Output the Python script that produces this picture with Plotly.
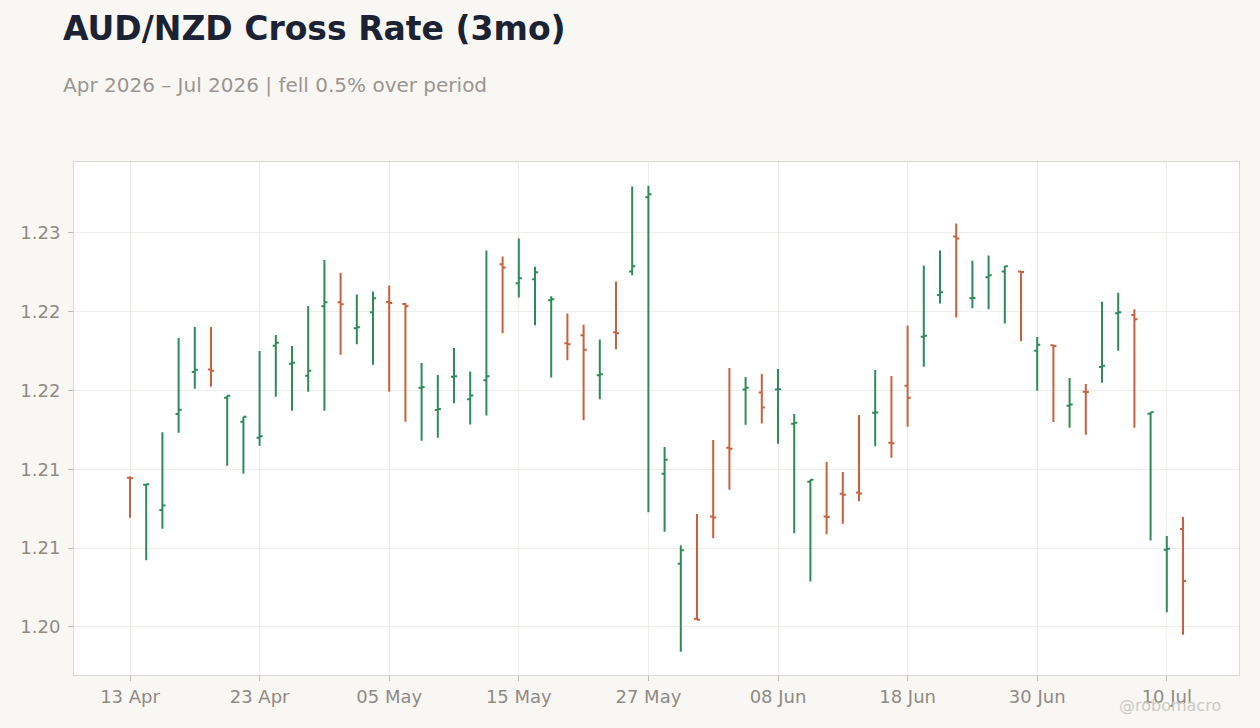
import pandas as pd
import plotly.graph_objects as go

dates = pd.bdate_range("2026-04-13", periods=66)
date_labels = [d.strftime("%Y-%m-%d") for d in dates]

opens = [1.20947, 1.20902, 1.20742, 1.21351, 1.21617, 1.21633, 1.21454, 1.21302, 1.21201, 1.21784,
         1.21670, 1.21594, 1.22034, 1.22060, 1.21895, 1.21996, 1.22062, 1.22049, 1.21518, 1.21377,
         1.21588, 1.21444, 1.21565, 1.22301, 1.22180, 1.22206, 1.22073, 1.21800, 1.21850, 1.21597,
         1.21869, 1.22256, 1.22726, 1.20972, 1.20401, 1.20052, 1.20701, 1.21137, 1.21506, 1.21487,
         1.21506, 1.21289, 1.20921, 1.20701, 1.20845, 1.20853, 1.21359, 1.21169, 1.21530, 1.21841,
         1.22106, 1.22478, 1.22085, 1.22218, 1.22256, 1.22256, 1.21753, 1.21787, 1.21404, 1.21492,
         1.21649, 1.21990, 1.21979, 1.21353, 1.20490, 1.20622]
highs = [1.20956, 1.20907, 1.21235, 1.21833, 1.21903, 1.21903, 1.21467, 1.21334, 1.21751, 1.21852,
         1.21782, 1.22036, 1.22328, 1.22248, 1.22109, 1.22128, 1.22166, 1.22056, 1.21675, 1.21599,
         1.21770, 1.21620, 1.22388, 1.22350, 1.22464, 1.22286, 1.22098, 1.21988, 1.21918, 1.21823,
         1.22191, 1.22794, 1.22800, 1.21142, 1.20518, 1.20716, 1.21186, 1.21643, 1.21586, 1.21605,
         1.21637, 1.21351, 1.20934, 1.21046, 1.20983, 1.21345, 1.21630, 1.21592, 1.21912, 1.22294,
         1.22388, 1.22559, 1.22324, 1.22356, 1.22290, 1.22259, 1.21839, 1.21791, 1.21579, 1.21541,
         1.22064, 1.22121, 1.22015, 1.21362, 1.20577, 1.20697]
lows = [1.20693, 1.20423, 1.20623, 1.21232, 1.21511, 1.21524, 1.21023, 1.20972, 1.21150, 1.21461,
        1.21372, 1.21493, 1.21372, 1.21727, 1.21794, 1.21664, 1.21493, 1.21302, 1.21181, 1.21201,
        1.21420, 1.21285, 1.21341, 1.21863, 1.22091, 1.21914, 1.21583, 1.21692, 1.21311, 1.21444,
        1.21762, 1.22231, 1.20727, 1.20604, 1.19843, 1.20044, 1.20562, 1.20871, 1.21283, 1.21290,
        1.21162, 1.20594, 1.20289, 1.20588, 1.20655, 1.20797, 1.21146, 1.21074, 1.21270, 1.21651,
        1.22052, 1.21964, 1.22022, 1.22015, 1.21926, 1.21812, 1.21499, 1.21300, 1.21264, 1.21220,
        1.21550, 1.21753, 1.21264, 1.20548, 1.20093, 1.19950]
closes = [1.20943, 1.20905, 1.20770, 1.21378, 1.21632, 1.21626, 1.21467, 1.21334, 1.21210, 1.21803,
          1.21676, 1.21626, 1.22060, 1.22047, 1.21902, 1.22085, 1.22056, 1.22034, 1.21520, 1.21383,
          1.21590, 1.21469, 1.21590, 1.22280, 1.22212, 1.22250, 1.22079, 1.21794, 1.21759, 1.21603,
          1.21863, 1.22288, 1.22745, 1.21061, 1.20486, 1.20046, 1.20695, 1.21131, 1.21518, 1.21392,
          1.21508, 1.21296, 1.20934, 1.20698, 1.20839, 1.20847, 1.21361, 1.21166, 1.21454, 1.21848,
          1.22123, 1.22464, 1.22087, 1.22231, 1.22288, 1.22252, 1.21791, 1.21783, 1.21412, 1.21490,
          1.21657, 1.21996, 1.21952, 1.21362, 1.20496, 1.20292]

x_tickvals = date_labels[::8]
x_ticktext = [d.strftime("%d %b") for d in dates[::8]]
y_tickvals = [1.200, 1.205, 1.210, 1.215, 1.220, 1.225]
y_ticktext = ["1.20", "1.21", "1.21", "1.22", "1.22", "1.23"]

GREEN = "#2e8b57"
RED = "#c9603f"
TICKCOL = "#8f8a84"

fig = go.Figure(go.Ohlc(
    x=date_labels, open=opens, high=highs, low=lows, close=closes,
    increasing=dict(line=dict(color=GREEN, width=2)),
    decreasing=dict(line=dict(color=RED, width=2)),
    tickwidth=0.19, showlegend=False,
))

fig.update_layout(
    width=1260, height=728,
    paper_bgcolor="#f9f7f4", plot_bgcolor="#ffffff",
    margin=dict(l=74, r=21, t=162, b=53),
    font=dict(family="DejaVu Sans", color=TICKCOL, size=18),
    showlegend=False,
    xaxis=dict(
        type="category", range=[-3.457, 68.457],
        tickvals=x_tickvals, ticktext=x_ticktext,
        showgrid=True, gridcolor="#f0eeeb", gridwidth=1,
        showline=True, linecolor="#ddd8d1", linewidth=1, mirror=True,
        ticks="outside", ticklen=5, tickcolor="#bdb8b2",
        tickfont=dict(size=18, color=TICKCOL),
        rangeslider=dict(visible=False), zeroline=False,
    ),
    yaxis=dict(
        range=[1.19695, 1.2295],
        tickvals=y_tickvals, ticktext=y_ticktext,
        showgrid=True, gridcolor="#f0eeeb", gridwidth=1,
        showline=True, linecolor="#ddd8d1", linewidth=1, mirror=True,
        ticks="outside", ticklen=5, tickcolor="#bdb8b2", ticklabelstandoff=4,
        tickfont=dict(size=18, color=TICKCOL), zeroline=False,
    ),
    annotations=[
        dict(text="<b>AUD/NZD Cross Rate (3mo)</b>", xref="paper", yref="paper",
             x=-0.0112, y=1.2612, xanchor="left", yanchor="middle", showarrow=False,
             font=dict(family="DejaVu Sans", size=33, color="#1a2233")),
        dict(text="Apr 2026 – Jul 2026 | fell 0.5% over period", xref="paper", yref="paper",
             x=-0.0112, y=1.150, xanchor="left", yanchor="middle", showarrow=False,
             font=dict(family="DejaVu Sans", size=20, color="#9a9590")),
        dict(text="@robomacro", xref="paper", yref="paper",
             x=0.9408, y=-0.0585, xanchor="center", yanchor="middle", showarrow=False,
             font=dict(family="DejaVu Sans", size=16, color="#cdc9c4")),
    ],
)

fig.write_html("out.html", config={"displayModeBar": False},
               post_script="document.body.style.margin='0px';")
